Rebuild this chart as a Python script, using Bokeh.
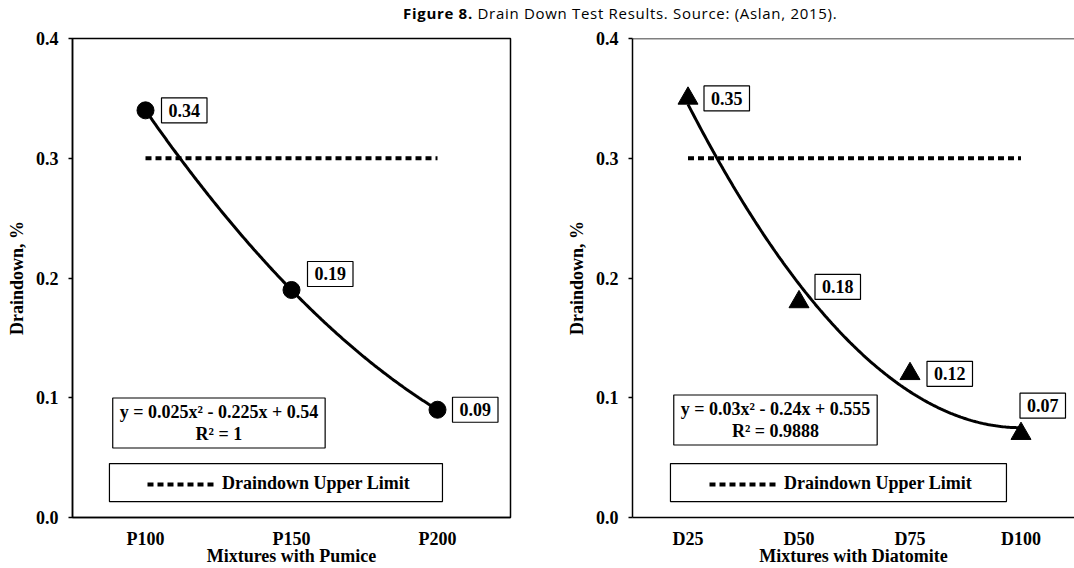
import numpy as np
from bokeh.plotting import figure
from bokeh.models import (ColumnDataSource, FixedTicker, PrintfTickFormatter, Span,
                          Legend, LegendItem, BoxAnnotation, Label, Div, Range1d)
from bokeh.layouts import row, column
from bokeh.embed import file_html
from bokeh.resources import INLINE
from bokeh.core.properties import value

# ---------------- data ----------------
pumice_labels = ["P100", "P150", "P200"]
pumice_values = [0.34, 0.19, 0.09]
diatomite_labels = ["D25", "D50", "D75", "D100"]
diatomite_values = [0.35, 0.18, 0.12, 0.07]
upper_limit = 0.3
y_ticks = [0.0, 0.1, 0.2, 0.3, 0.4]
pumice_equation = "y = 0.025x\u00b2 - 0.225x + 0.54\nR\u00b2 = 1"
diatomite_equation = "y = 0.03x\u00b2 - 0.24x + 0.555\nR\u00b2 = 0.9888"
pumice_title = "Mixtures with Pumice"
diatomite_title = "Mixtures with Diatomite"
y_title = "Draindown, %"
legend_label = "Draindown Upper Limit"
figure_title = "<b>Figure 8.</b> Drain Down Test Results. Source: (Aslan, 2015)."

# ---------------- styling / layout ----------------
FONT = "Liberation Serif"
FS = "18px"
FIG_H = 544


def make_panel(labels, values, marker, msize, lab_dx, lab_dy, eq_text, eq_xy,
               lbox, leg_loc, x_end, width, mb_left, mb_right, outline, x_title):
    n = len(labels)
    xs = list(range(1, n + 1))
    p = figure(width=width, height=FIG_H, x_range=Range1d(0.5, x_end),
               y_range=Range1d(0, 0.4), output_backend="svg", toolbar_location=None,
               min_border_left=mb_left, min_border_right=mb_right,
               min_border_top=14, min_border_bottom=51,
               background_fill_color="white", border_fill_color="white")
    p.xgrid.visible = False
    p.ygrid.visible = False
    if outline:
        p.outline_line_color = "black"
        p.outline_line_width = 1.5
    else:
        p.outline_line_color = None
        p.add_layout(Span(location=0.4, dimension="width", line_color="black",
                          line_width=1.5))

    # axes
    p.xaxis.ticker = FixedTicker(ticks=xs)
    p.xaxis.major_label_overrides = {x: lab for x, lab in zip(xs, labels)}
    p.yaxis.ticker = FixedTicker(ticks=y_ticks)
    p.yaxis.formatter = PrintfTickFormatter(format="%.1f")
    for ax in (p.xaxis[0], p.yaxis[0]):
        ax.axis_line_color = "black"
        ax.axis_line_width = 1.5
        ax.minor_tick_line_color = None
        ax.major_label_text_font = FONT
        ax.major_label_text_font_style = "bold"
        ax.major_label_text_font_size = FS
        ax.major_label_text_color = "black"
        ax.axis_label_text_font = FONT
        ax.axis_label_text_font_style = "bold"
        ax.axis_label_text_font_size = FS
        ax.axis_label_text_color = "black"
    p.xaxis.major_tick_line_color = None
    p.xaxis.major_tick_out = 0
    p.xaxis.major_tick_in = 0
    p.xaxis.major_label_standoff = 11
    p.xaxis.axis_label = x_title
    p.xaxis.axis_label_standoff = -6
    p.yaxis.major_tick_out = 4
    p.yaxis.major_tick_in = 0
    p.yaxis.major_tick_line_width = 1.5
    p.yaxis.major_tick_line_color = "black"
    p.yaxis.major_label_standoff = 10
    p.yaxis.axis_label = y_title
    p.yaxis.axis_label_standoff = 6

    # upper limit line
    lim = p.line(x=[xs[0], xs[-1]], y=[upper_limit, upper_limit], line_color="black",
                 line_width=4, line_dash="6 4", line_cap="butt")

    # polynomial trend line (fitted from the data, as the chart's trendline)
    coeffs = np.polyfit(xs, values, 2)
    cx = np.linspace(xs[0], xs[-1], 200)
    p.line(cx, np.polyval(coeffs, cx), line_color="black", line_width=3)

    # markers
    p.scatter(xs, values, marker=marker, size=msize, color="black")

    # data labels
    src = ColumnDataSource(dict(x=xs, y=values, t=[f"{v:.2f}" for v in values],
                                dx=lab_dx, dy=[-d for d in lab_dy]))
    p.text(x="x", y="y", text="t", source=src, x_offset="dx", y_offset="dy",
           text_font=value(FONT), text_font_style="bold", text_font_size=FS,
           text_color="black", text_align="left", text_baseline="middle",
           border_line_color="black", border_line_width=1.2,
           background_fill_color="white",
           padding=dict(left=7, right=7, top=6, bottom=6))

    # equation box
    p.add_layout(Label(x=eq_xy[0], y=eq_xy[1], text=eq_text, text_align="center",
                       text_baseline="middle", text_font=FONT, text_font_style="bold",
                       text_font_size=FS, text_line_height=1.1, text_color="black",
                       border_line_color="black", border_line_width=1.2,
                       background_fill_color="white",
                       padding=dict(left=7, right=7, top=4, bottom=4)))

    # legend frame + legend
    p.add_layout(BoxAnnotation(left=lbox[0], right=lbox[1], bottom=lbox[2], top=lbox[3],
                               fill_color=None, line_color="black", line_alpha=1.0,
                               line_width=1.2))
    legend = Legend(items=[LegendItem(label=legend_label, renderers=[lim])],
                    location=leg_loc, glyph_width=70, glyph_height=20, label_standoff=5,
                    padding=9, margin=0, spacing=0, label_height=20,
                    border_line_color=None, background_fill_alpha=0,
                    label_text_font=FONT, label_text_font_style="bold",
                    label_text_font_size=FS, label_text_color="black")
    p.add_layout(legend)
    return p


p1 = make_panel(pumice_labels, pumice_values, "circle", 17,
                [16, 16, 15], [0, 16, 0], pumice_equation, (1.503, 0.0789),
                (0.753, 3.034, 0.0133, 0.045), (75, 23), 3.5, 560, 72, 50, True,
                pumice_title)
p2 = make_panel(diatomite_labels, diatomite_values, "triangle", 20,
                [16, 16, 17, -1], [0, 15, 0, 28], diatomite_equation, (1.788, 0.0814),
                (0.842, 3.869, 0.0133, 0.045), (77, 23), 0.5 + 442 / 111, 514, 72, 0,
                False, diatomite_title)

title = Div(text=('<div style="margin-left:403px;padding-top:6px;font-family:\'Open Sans\';'
                  'font-size:15px;letter-spacing:0.7px;line-height:15px;color:#000;'
                  'white-space:nowrap">' + figure_title + '</div>'),
            width=1074, height=24, margin=(0, 0, 0, 0))

layout = column(title, row(p1, p2))
open("out.html", "w").write(file_html(layout, INLINE))
